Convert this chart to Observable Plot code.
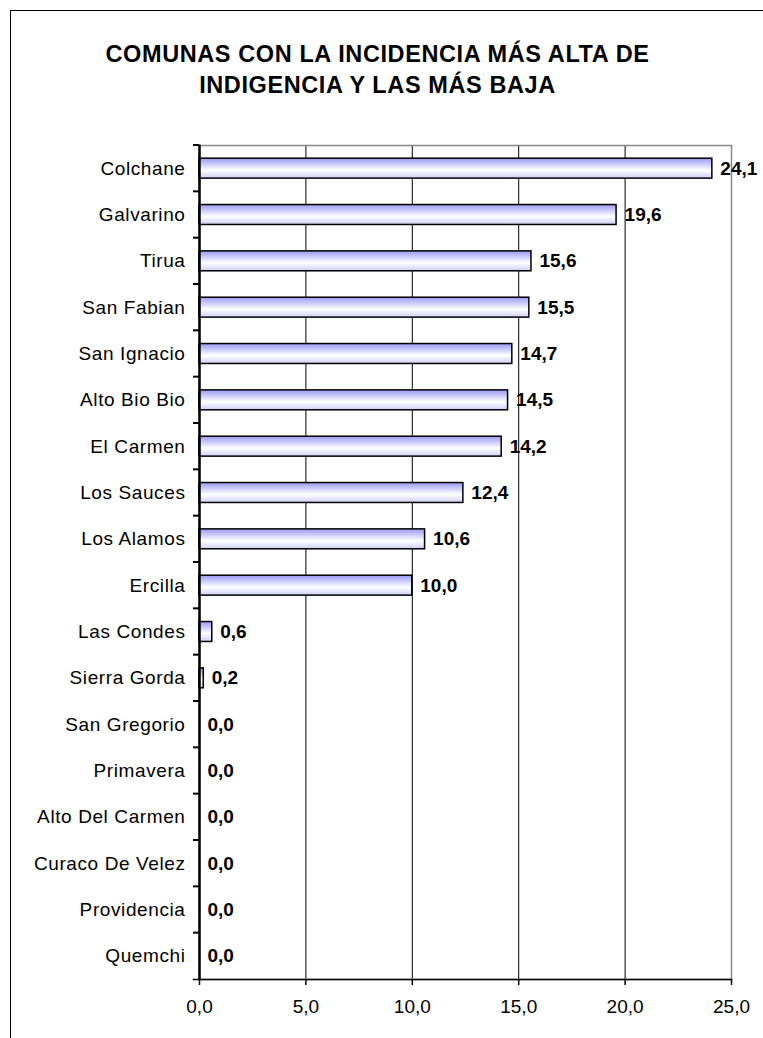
<!DOCTYPE html>
<html>
<head>
<meta charset="utf-8">
<script src="https://cdn.jsdelivr.net/npm/d3@7"></script>
<script src="https://cdn.jsdelivr.net/npm/@observablehq/plot@0.6"></script>
<style>
  html, body { margin: 0; padding: 0; background: #fff; }
  #wrap { position: relative; width: 763px; height: 1038px; overflow: hidden; }
  #border { position: absolute; left: 10px; top: 10px; width: 800px; height: 1100px;
            border-left: 1.5px solid #000; border-top: 1.5px solid #000; }
  #title { position: absolute; left: 0; top: 39px; width: 755px; text-align: center;
           font-family: "Liberation Sans", Arial, sans-serif; font-weight: bold;
           font-size: 23.5px; line-height: 31px; letter-spacing: 0.6px; color: #000; }
  #chart { position: absolute; left: 0; top: 0; }
  #chart svg g[aria-label="y-axis tick label"] text { letter-spacing: 0.6px; }
</style>
</head>
<body>
<div id="wrap">
  <div id="border"></div>
  <div id="title">COMUNAS CON LA INCIDENCIA MÁS ALTA DE<br>INDIGENCIA Y LAS MÁS BAJA</div>
  <div id="chart"></div>
</div>
<script>
const comunas = ["Colchane","Galvarino","Tirua","San Fabian","San Ignacio","Alto Bio Bio","El Carmen","Los Sauces","Los Alamos","Ercilla","Las Condes","Sierra Gorda","San Gregorio","Primavera","Alto Del Carmen","Curaco De Velez","Providencia","Quemchi"];
const indigencia = [24.1,19.6,15.6,15.5,14.7,14.5,14.2,12.4,10.6,10.0,0.6,0.2,0.0,0.0,0.0,0.0,0.0,0.0];
const xTicks = [0,5,10,15,20,25];

const data = comunas.map((c, i) => ({comuna: c, valor: indigencia[i]}));
const barData = data.filter(d => d.valor > 0);
const fmt = v => v.toFixed(1).replace(".", ",");

const W = 763, H = 1038, mt = 145, mb = 59, ml = 199, mr = 32;
const padOuter = 0.285;

// category-boundary ticks on the left axis (derived from the y scale)
function leftTicks(index, scales, values, dimensions) {
  const {marginTop, marginBottom, height} = dimensions;
  const x0 = scales.x(0);
  const step = (height - marginTop - marginBottom) / comunas.length;
  const g = d3.create("svg:g").attr("aria-label", "left-ticks")
    .attr("stroke", "#000").attr("stroke-width", 2);
  comunas.forEach((c, i) => {
    const yc = scales.y(c);
    const y = yc == null ? marginTop + i * step : yc - step * padOuter;
    g.append("line").attr("x1", x0 - 6).attr("x2", x0).attr("y1", y).attr("y2", y);
  });
  return g.node();
}

const chart = Plot.plot({
  width: W, height: H,
  marginTop: mt, marginBottom: mb, marginLeft: ml, marginRight: mr,
  x: {domain: [0, 25], label: null},
  y: {domain: comunas, paddingInner: 0.57, paddingOuter: padOuter, align: 0.5, round: false, label: null},
  style: {fontFamily: "'Liberation Sans', Arial, sans-serif", fontSize: "19px", color: "#000", background: "transparent", overflow: "visible"},
  marks: [
    Plot.gridX(xTicks.slice(1, -1), {stroke: "#000", strokeOpacity: 1, strokeWidth: 1}),
    Plot.frame({stroke: "#888", strokeWidth: 1.5}),
    Plot.barX(barData, {x: "valor", y: "comuna", fill: "url(#barGrad)", stroke: "#000", strokeWidth: 1.5}),
    Plot.text(data, {x: "valor", y: "comuna", text: d => fmt(d.valor), textAnchor: "start", dx: 8, fontWeight: "bold", fill: "#000"}),
    Plot.axisX({ticks: xTicks, tickSize: 6, tickPadding: 14, tickFormat: fmt, stroke: "#000", strokeWidth: 1.5}),
    Plot.frame({anchor: "bottom", stroke: "#000", strokeWidth: 1.5, insetLeft: -6}),
    Plot.frame({anchor: "left", stroke: "#000", strokeWidth: 2}),
    Plot.ruleX([0], {stroke: "#000", strokeWidth: 2}),
    Plot.axisY({tickSize: 0, tickPadding: 14}),
    leftTicks
  ]
});

// vertical gradient for the bars
const ns = "http://www.w3.org/2000/svg";
const defs = document.createElementNS(ns, "defs");
const grad = document.createElementNS(ns, "linearGradient");
grad.setAttribute("id", "barGrad");
grad.setAttribute("x1", "0"); grad.setAttribute("y1", "0");
grad.setAttribute("x2", "0"); grad.setAttribute("y2", "1");
[["0", "#9a9af4"], ["0.6", "#ffffff"], ["1", "#cfcff8"]].forEach(([o, c]) => {
  const s = document.createElementNS(ns, "stop");
  s.setAttribute("offset", o); s.setAttribute("stop-color", c);
  grad.appendChild(s);
});
defs.appendChild(grad);
chart.insertBefore(defs, chart.firstChild);

document.getElementById("chart").appendChild(chart);
</script>
</body>
</html>
